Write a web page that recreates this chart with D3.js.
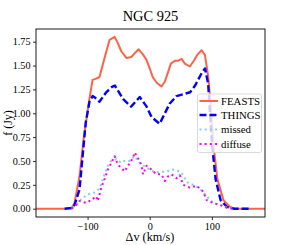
<!DOCTYPE html>
<html>
<head>
<meta charset="utf-8">
<script src="https://cdn.jsdelivr.net/npm/d3@7"></script>
<style>
  body { margin: 0; background: #fff; }
  text { font-family: "Liberation Serif", "Times New Roman", serif; }
</style>
</head>
<body>
<div id="chart"></div>
<script>
// spectra of NGC 925, velocity (km/s) and flux (Jy)
var feastsV = [-183, -126, -121, -113, -106.6, -101.8, -97, -92, -87, -80.8, -72.7, -64.6, -56.5, -51.7, -45.7, -37.6, -29.6, -22.6, -17.8, -11.3, -5.3, 0, 4.8, 11.3, 18.9, 24.2, 29, 34, 40.4, 45.2, 51.2, 56.5, 64.6, 71, 77.5, 83.5, 88.9, 94.2, 98, 102.7, 108.9, 118.6, 129, 137, 185.5];
var feastsF = [0, 0, 0.06, 0.34, 0.72, 0.94, 1.15, 1.35, 1.36, 1.38, 1.58, 1.77, 1.80, 1.74, 1.65, 1.58, 1.59, 1.64, 1.67, 1.62, 1.56, 1.47, 1.38, 1.32, 1.28, 1.33, 1.42, 1.52, 1.55, 1.55, 1.57, 1.52, 1.49, 1.55, 1.62, 1.66, 1.61, 1.38, 1.1, 0.66, 0.31, 0.09, 0.02, 0, 0];

var thingsV = [-137, -124, -121, -113, -108, -103, -97, -92, -85, -81, -70, -60, -56, -43, -30, -16, -5, 3, 16, 32, 43, 54, 65, 73, 83.5, 89, 94, 97, 100.5, 106, 114, 124, 135, 161];
var thingsF = [0, 0.01, 0.04, 0.2, 0.55, 0.9, 1.12, 1.18, 1.15, 1.12, 1.22, 1.28, 1.29, 1.15, 1.07, 1.17, 1.07, 0.96, 0.89, 1.10, 1.18, 1.20, 1.22, 1.29, 1.42, 1.47, 1.31, 1.0, 0.66, 0.31, 0.09, 0.02, 0, 0];

var missedV = [-124.4, -118, -110, -100, -89, -81, -77.5, -72.7, -67.4, -61.9, -53.8, -45.7, -40.4, -32.3, -24.2, -16.2, -5.3, 5.3, 16.2, 27, 37.6, 48.5, 53, 59.3, 70, 80.8, 91.6, 102.3, 113, 124, 134];
var missedF = [0.01, 0.04, 0.10, 0.15, 0.17, 0.21, 0.27, 0.36, 0.45, 0.50, 0.52, 0.48, 0.50, 0.50, 0.55, 0.48, 0.43, 0.39, 0.38, 0.39, 0.41, 0.39, 0.36, 0.28, 0.25, 0.21, 0.13, 0.06, 0.04, 0.015, 0];

var diffuseV = [-126, -119.5, -113, -102, -94, -86, -83.5, -78, -72.7, -67.4, -61.9, -56.5, -51.2, -45.7, -40.4, -35, -27, -24.2, -18.9, -13.4, -10.8, -5.3, 2.7, 10.8, 18.9, 24.2, 29.6, 35, 43, 48.5, 53.8, 64.6, 75.4, 86, 91.6, 102.3, 113, 124, 134];
var diffuseF = [0, 0.03, 0.08, 0.06, 0.09, 0.13, 0.08, 0.22, 0.31, 0.41, 0.48, 0.55, 0.46, 0.43, 0.39, 0.45, 0.53, 0.59, 0.53, 0.46, 0.36, 0.45, 0.41, 0.36, 0.36, 0.29, 0.34, 0.36, 0.32, 0.35, 0.25, 0.22, 0.24, 0.18, 0.09, 0.06, 0.04, 0.01, 0];

var yTicks = [0, 0.25, 0.5, 0.75, 1.0, 1.25, 1.5, 1.75];
var xTicks = [-100, 0, 100];
var seriesNames = ["FEASTS", "THINGS", "missed", "diffuse"];

var width = 294, height = 245;
var plotLeft = 36, plotRight = 265, plotTop = 29, plotBottom = 217;

var svg = d3.select("#chart")
  .append("svg")
  .attr("width", width)
  .attr("height", height);

var x = d3.scaleLinear().domain([-183, 185.5]).range([plotLeft, plotRight]);
var y = d3.scaleLinear().domain([-0.087, 1.883]).range([plotBottom, plotTop]);

// series styles
var styles = [
  { v: feastsV, f: feastsF, color: "#ff6347", width: 2, dash: null },
  { v: thingsV, f: thingsF, color: "#0000ff", width: 2.4, dash: "7,3" },
  { v: missedV, f: missedF, color: "#87ceeb", width: 2, dash: "2,3.2" },
  { v: diffuseV, f: diffuseF, color: "#ff00ff", width: 2, dash: "2,3.2" }
];

var line = d3.line()
  .x(function (d) { return x(d[0]); })
  .y(function (d) { return y(d[1]); });

svg.append("clipPath").attr("id", "clip")
  .append("rect")
  .attr("x", plotLeft).attr("y", plotTop)
  .attr("width", plotRight - plotLeft).attr("height", plotBottom - plotTop);

var plot = svg.append("g").attr("clip-path", "url(#clip)");

styles.forEach(function (s) {
  var pts = s.v.map(function (v, i) { return [v, s.f[i]]; });
  plot.append("path")
    .datum(pts)
    .attr("d", line)
    .attr("fill", "none")
    .attr("stroke", s.color)
    .attr("stroke-width", s.width)
    .attr("stroke-dasharray", s.dash)
    .attr("stroke-linejoin", "round");
});

// axes
var xAxis = d3.axisBottom(x).tickValues(xTicks).tickSize(3).tickPadding(2.5)
  .tickFormat(function (d) { return d < 0 ? "\u2212" + Math.abs(d) : d; });
var yAxis = d3.axisLeft(y).tickValues(yTicks).tickSize(3).tickPadding(2.5)
  .tickFormat(d3.format(".2f"));

var gx = svg.append("g").attr("transform", "translate(0," + plotBottom + ")").call(xAxis);
var gy = svg.append("g").attr("transform", "translate(" + plotLeft + ",0)").call(yAxis);
[gx, gy].forEach(function (g) {
  g.select(".domain").remove();
  g.selectAll("line").attr("stroke", "#000").attr("stroke-width", 0.8);
  g.selectAll("text").attr("fill", "#000").style("font-size", "10.2px")
    .style("font-family", "'Liberation Serif', serif");
});

// frame
svg.append("rect")
  .attr("x", plotLeft).attr("y", plotTop)
  .attr("width", plotRight - plotLeft).attr("height", plotBottom - plotTop)
  .attr("fill", "none")
  .attr("stroke", "#000")
  .attr("stroke-width", 0.9);

// title and labels
svg.append("text")
  .attr("x", (plotLeft + plotRight) / 2).attr("y", 21)
  .attr("text-anchor", "middle")
  .style("font-size", "14.4px")
  .text("NGC 925");

svg.append("text")
  .attr("x", 150).attr("y", 240.5)
  .attr("text-anchor", "middle")
  .style("font-size", "12.2px")
  .text("\u0394v (km/s)");

svg.append("text")
  .attr("transform", "translate(12," + ((plotTop + plotBottom) / 2) + ") rotate(-90)")
  .attr("text-anchor", "middle")
  .style("font-size", "12px")
  .text("f (Jy)");

// legend
var legend = svg.append("g");
legend.append("rect")
  .attr("x", 197.5).attr("y", 94)
  .attr("width", 64).attr("height", 58.5)
  .attr("rx", 2)
  .attr("fill", "#fff").attr("fill-opacity", 0.8)
  .attr("stroke", "#d0d0d0").attr("stroke-width", 0.8);

var rowY = [101, 115, 129.5, 144];
seriesNames.forEach(function (name, i) {
  var s = styles[i];
  legend.append("line")
    .attr("x1", 199.5).attr("x2", 218)
    .attr("y1", rowY[i]).attr("y2", rowY[i])
    .attr("stroke", s.color)
    .attr("stroke-width", s.width)
    .attr("stroke-dasharray", s.dash);
  legend.append("text")
    .attr("x", 221).attr("y", rowY[i] + 3.5)
    .style("font-size", "10.8px")
    .text(name);
});
</script>
</body>
</html>
